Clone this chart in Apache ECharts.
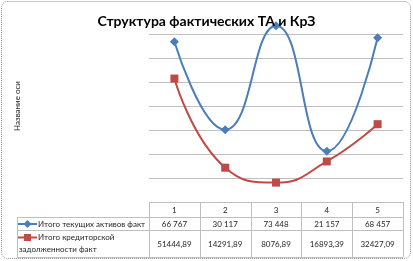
<!DOCTYPE html>
<html><head><meta charset="utf-8">
<script src="https://cdn.jsdelivr.net/npm/echarts@6/dist/echarts.min.js"></script>
<style>html,body{margin:0;padding:0;background:#fff}#c{width:413px;height:261px}</style>
</head><body><div id="c"></div>
<script>
const categories = ['1','2','3','4','5'];
const seriesNames = ['Итого текущих активов факт', 'Итого кредиторской задолженности факт'];
const currentAssets = [66767, 30117, 73448, 21157, 68457];
const payables = [51444.89, 14291.89, 8076.89, 16893.39, 32427.09];
const titleText = 'Структура фактических ТА и КрЗ';
const yAxisName = 'Название оси';

const BLUE = '#4A7EBB', RED = '#BE4B48', GRID = '#BFBFBF', TXT = '#262626';
const FONT = 'Lato';

function fmtInt(v){ return String(Math.round(v)).replace(/\B(?=(\d{3})+(?!\d))/g, ' '); }
function fmtDec(v){ return v.toFixed(2).replace('.', ','); }

const chart = echarts.init(document.getElementById('c'), null, {renderer:'canvas'});
const gridColors = [];
for (let i = 0; i < 9; i++) gridColors.push(i === 0 || i === 8 ? 'rgba(0,0,0,0)' : GRID);

chart.setOption({
  animation: false,
  textStyle: {fontFamily: FONT},
  title: {text: titleText, left: 'center', top: 9,
    textStyle: {fontFamily: FONT, fontSize: 14, fontWeight: 'bold', color: '#000'}},
  grid: {left: 149, right: 10, top: 10, bottom: 59},
  xAxis: {type: 'category', data: categories, boundaryGap: true,
    axisLine: {show: false}, axisTick: {show: false},
    axisLabel: {margin: 4, fontSize: 8, color: TXT, fontFamily: FONT}},
  yAxis: {type: 'value', min: 0, max: 80000, interval: 10000,
    name: yAxisName, nameLocation: 'middle', nameRotate: 90, nameGap: 128,
    nameTextStyle: {fontSize: 8, color: TXT, fontFamily: FONT},
    axisLabel: {show: false}, axisLine: {show: false}, axisTick: {show: false},
    splitLine: {lineStyle: {color: gridColors, width: 1}}},
  series: [
    {name: seriesNames[0], type: 'line', data: currentAssets, smooth: 0.5,
      symbol: 'diamond', symbolSize: 9, lineStyle: {color: BLUE, width: 2},
      itemStyle: {color: BLUE}},
    {name: seriesNames[1], type: 'line', data: payables, smooth: 0.5,
      symbol: 'rect', symbolSize: 8, lineStyle: {color: RED, width: 2},
      itemStyle: {color: RED}}
  ]
});

// Data table below the plot
const xs = categories.map((c, i) => chart.convertToPixel({xAxisIndex: 0}, i));
const colW = xs.length > 1 ? xs[1] - xs[0] : 50;
const left0 = xs[0] - colW / 2, right0 = xs[xs.length - 1] + colW / 2;
const yTop = chart.convertToPixel({yAxisIndex: 0}, 0);
const yH = yTop + 15, yR1 = yTop + 28, yBot = yTop + 55;
const tblL = 17;
const g = [];
const ln = (x1, y1, x2, y2) => g.push({type: 'line', shape: {x1, y1, x2, y2},
  style: {stroke: GRID, lineWidth: 1}, silent: true});
ln(left0, yTop + 0.5, right0, yTop + 0.5);
ln(tblL, yH + 0.5, right0, yH + 0.5);
ln(tblL, yR1 + 0.5, right0, yR1 + 0.5);
ln(tblL, yBot + 0.5, right0, yBot + 0.5);
ln(tblL + 0.5, yH, tblL + 0.5, yBot);
for (let i = 0; i <= xs.length; i++) {
  const x = Math.round(left0 + i * colW) + 0.5;
  ln(x, yTop, x, yBot);
}
const txt = (x, y, s, align) => g.push({type: 'text', x, y, silent: true,
  style: {text: s, fontSize: 8, fontFamily: FONT, fill: TXT, align: align || 'center', verticalAlign: 'middle'}});
const yB = (yH + yR1) / 2 + 0.5, yRd = (yR1 + yBot) / 2 + 0.5;
xs.forEach((x, i) => { txt(x, yB, fmtInt(currentAssets[i])); txt(x, yRd, fmtDec(payables[i])); });
// legend keys
g.push({type: 'line', shape: {x1: 18, y1: yB, x2: 37, y2: yB}, style: {stroke: BLUE, lineWidth: 2}});
g.push({type: 'polygon', shape: {points: [[27.5, yB - 4], [31.5, yB], [27.5, yB + 4], [23.5, yB]]}, style: {fill: BLUE}});
txt(38, yB, seriesNames[0], 'left');
const yL1 = yR1 + 7.5;
g.push({type: 'line', shape: {x1: 18, y1: yL1, x2: 37, y2: yL1}, style: {stroke: RED, lineWidth: 2}});
g.push({type: 'rect', shape: {x: 24, y: yL1 - 3.5, width: 7, height: 7}, style: {fill: RED}});
const words = seriesNames[1].split(' ');
txt(38, yL1, words.slice(0, 2).join(' '), 'left');
txt(19, yL1 + 12, words.slice(2).join(' '), 'left');
// outer border
g.push({type: 'rect', shape: {x: 1.5, y: 1.5, width: 409, height: 257, r: 6},
  style: {fill: 'none', stroke: '#8c8c8c', lineWidth: 1, lineDash: [1, 1]}, silent: true});
chart.setOption({graphic: g});
</script></body></html>
